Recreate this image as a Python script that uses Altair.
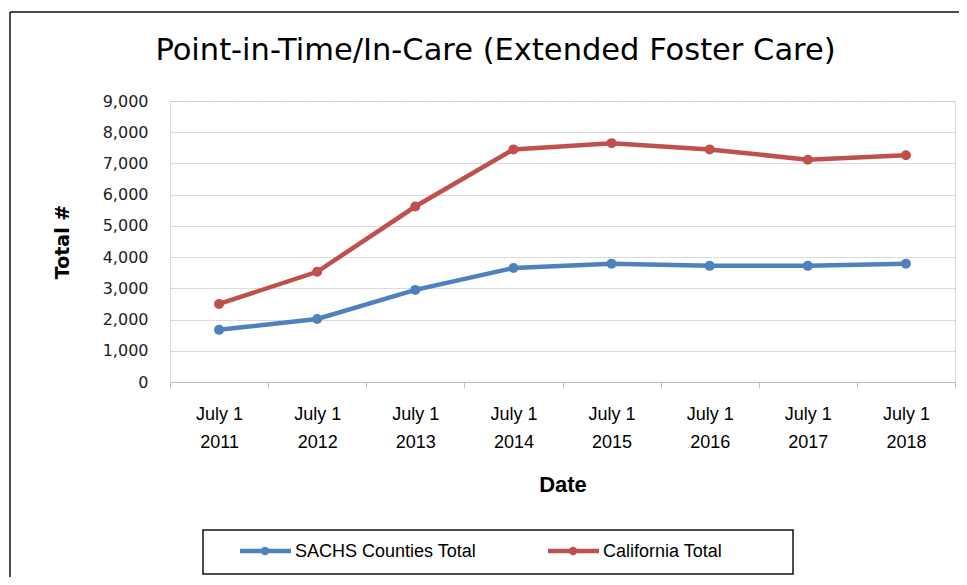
import altair as alt
import pandas as pd

years = ["2011", "2012", "2013", "2014", "2015", "2016", "2017", "2018"]
sachs_total = [1670, 2020, 2950, 3650, 3790, 3720, 3720, 3790]
california_total = [2500, 3530, 5620, 7450, 7650, 7450, 7120, 7260]
series_names = ["SACHS Counties Total", "California Total"]
series_colors = ["#4F81BD", "#C0504D"]
y_ticks = [0, 1000, 2000, 3000, 4000, 5000, 6000, 7000, 8000, 9000]

rows = []
for name, vals in zip(series_names, [sachs_total, california_total]):
    for yr, v in zip(years, vals):
        rows.append({"year": yr, "value": v, "series": name})
df = pd.DataFrame(rows)

W, H = 785, 281
LABEL_FONT = "Liberation Sans"
NUM_FONT = "DejaVu Sans"

color = alt.Color("series:N", scale=alt.Scale(domain=series_names, range=series_colors), legend=None)

x_enc = alt.X(
    "year:N",
    bandPosition=0.5,
    scale=alt.Scale(type="band", paddingInner=0, paddingOuter=0),
    axis=alt.Axis(
        title="Date",
        labelExpr="datum.label ? ['July 1', datum.label] : ''",
        labelAngle=0,
        tickBand="extent",
        grid=False,
        domainColor="#bfbfbf",
        tickColor="#bfbfbf",
        tickSize=6,
        labelFont=LABEL_FONT,
        labelFontSize=18,
        labelLineHeight=28,
        labelPadding=17,
        labelColor="#000000",
        titleFont=LABEL_FONT,
        titleFontSize=22,
        titleFontWeight="bold",
        titleColor="#000000",
        titlePadding=23,
    ),
)
y_enc = alt.Y(
    "value:Q",
    scale=alt.Scale(domain=[0, 9000]),
    axis=alt.Axis(
        title="Total #",
        values=y_ticks,
        format=",d",
        grid=True,
        gridColor="#c8c8c8",
        gridDash=[2, 1],
        gridWidth=1,
        domain=False,
        ticks=False,
        labelFont=NUM_FONT,
        labelFontSize=16,
        labelColor="#222222",
        labelPadding=22,
        titleFont=NUM_FONT,
        titleFontSize=19,
        titleFontWeight="bold",
        titleColor="#000000",
        titlePadding=30,
    ),
)

base = alt.Chart(df).encode(x=x_enc, y=y_enc, color=color)
lines = base.mark_line(strokeWidth=4.5)
points = base.mark_circle(size=100, opacity=1)

one = pd.DataFrame({"k": [0]})
frame_top = alt.Chart(one).mark_rule(color="#111111", strokeWidth=1.5).encode(
    x=alt.value(-160), x2=alt.value(789), y=alt.value(-89)
)
frame_left = alt.Chart(one).mark_rule(color="#111111", strokeWidth=1.5).encode(
    x=alt.value(-160), y=alt.value(-89), y2=alt.value(476)
)
legend_box = alt.Chart(one).mark_rect(filled=False, stroke="#111111", strokeWidth=1.5).encode(
    x=alt.value(33), x2=alt.value(623), y=alt.value(429), y2=alt.value(473)
)

legend_layers = [frame_top, frame_left, legend_box]
entry_x = [70, 378]
for name, col, ex in zip(series_names, series_colors, entry_x):
    ldf = pd.DataFrame({"series": [name]})
    legend_layers.append(
        alt.Chart(ldf).mark_rule(color=col, strokeWidth=4.5).encode(
            x=alt.value(ex), x2=alt.value(ex + 51), y=alt.value(450)
        )
    )
    legend_layers.append(
        alt.Chart(ldf).mark_circle(color=col, size=70, opacity=1).encode(
            x=alt.value(ex + 25), y=alt.value(450)
        )
    )
    legend_layers.append(
        alt.Chart(ldf).mark_text(align="left", baseline="middle", font=LABEL_FONT, fontSize=18, color="#000000").encode(
            x=alt.value(ex + 55), y=alt.value(451), text="series:N"
        )
    )

chart = alt.layer(*legend_layers, lines, points).properties(
    width=W,
    height=H,
    autosize=alt.AutoSizeParams(type="none"),
    padding={"left": 162, "top": 93, "right": 4, "bottom": 195},
    title=alt.TitleParams(
        "Point-in-Time/In-Care (Extended Foster Care)",
        anchor="middle",
        dx=-67,
        dy=79,
        offset=0,
        baseline="alphabetic",
        font=NUM_FONT,
        fontSize=30.5,
        fontWeight="normal",
        color="#000000",
    ),
).configure_view(stroke=None).configure(background="white")

chart.save("out.html", embed_options={"renderer": "svg", "actions": False})
